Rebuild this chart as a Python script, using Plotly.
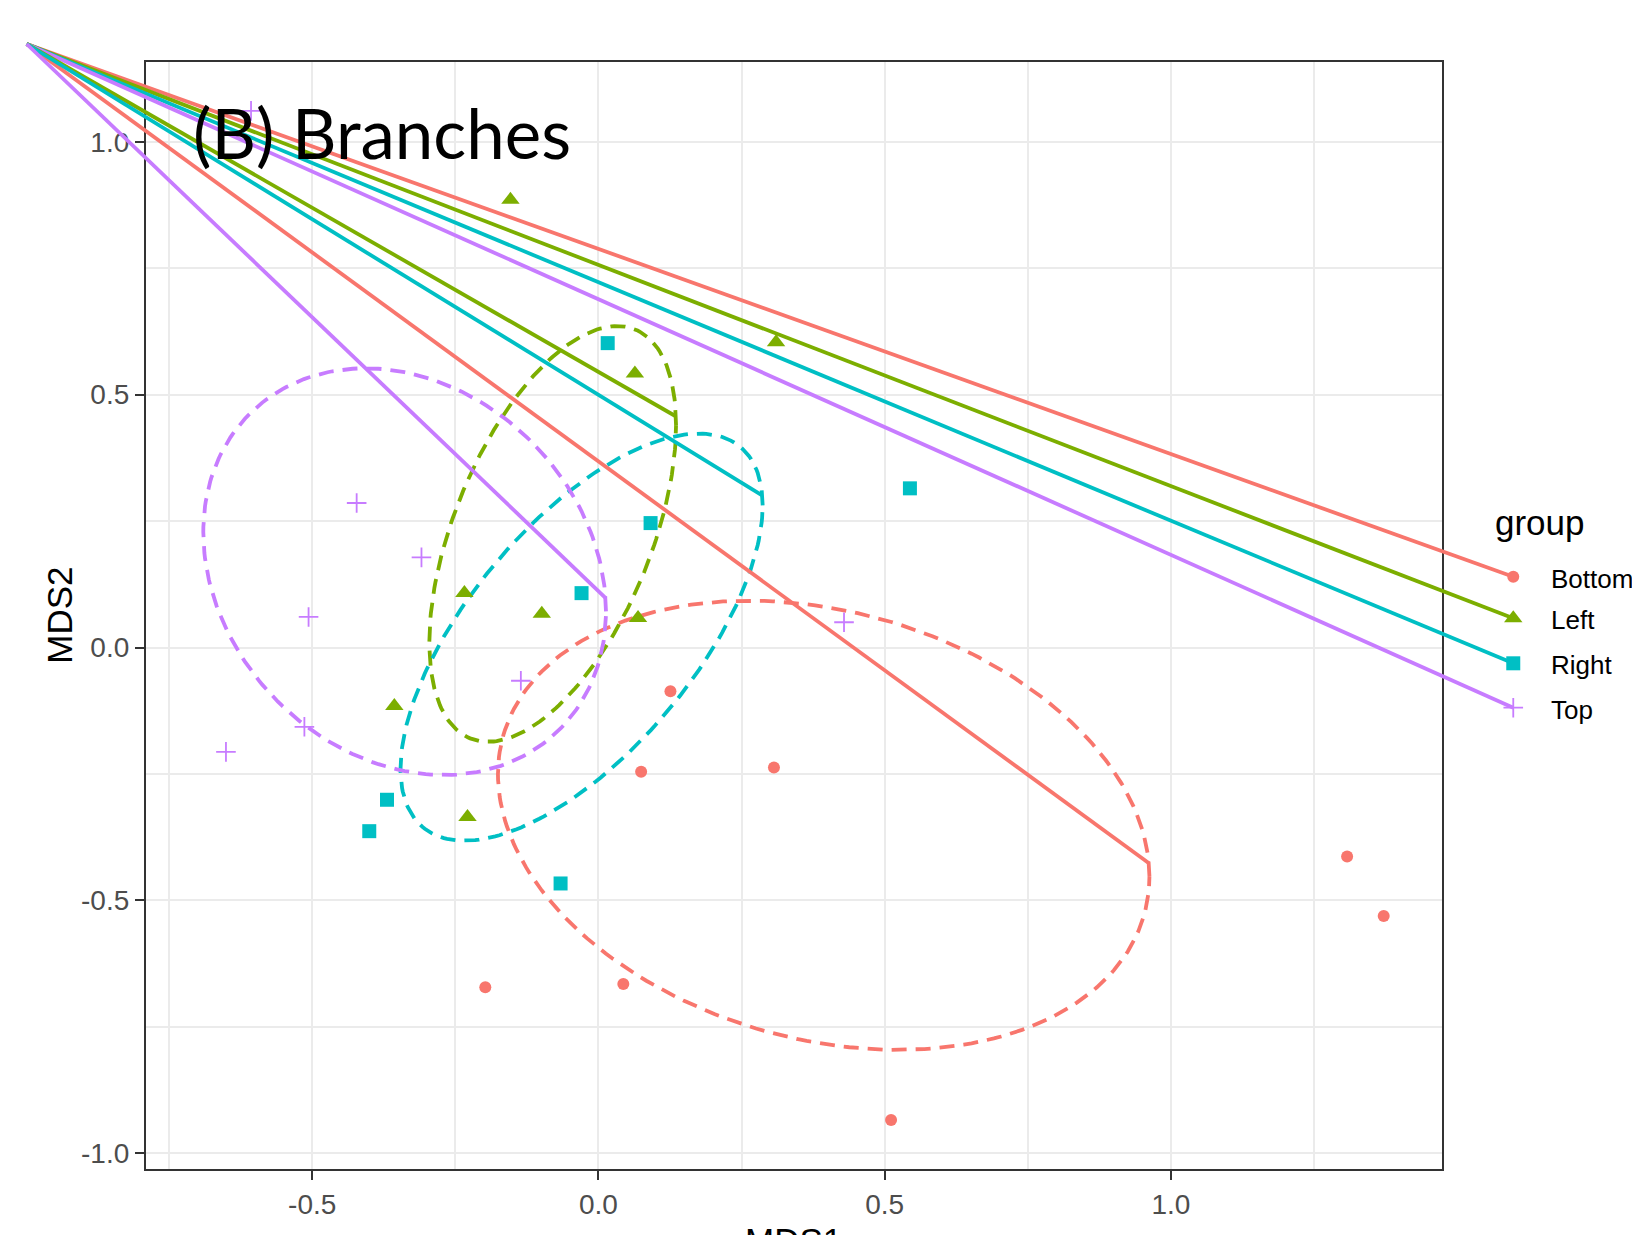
import numpy as np
import plotly.graph_objects as go

# ---------------- data ----------------
groups = ["Bottom", "Left", "Right", "Top"]
colors = ["#F8766D", "#7CAE00", "#00BFC4", "#C77CFF"]
symbols = ["circle", "triangle-up", "square", "cross-thin"]

bottom_x = [0.1257, 0.0745, 0.3065, 1.3077, 1.3716, -0.1977, 0.0434, 0.5111]
bottom_y = [-0.0864, -0.2456, -0.2373, -0.4131, -0.5310, -0.6715, -0.6653, -0.9340]
left_x = [-0.1538, 0.3102, 0.0636, -0.2342, -0.0990, 0.0691, -0.3566, -0.2288]
left_y = [0.8851, 0.6037, 0.5417, 0.1079, 0.0666, 0.0583, -0.1157, -0.3349]
right_x = [0.0161, 0.5440, 0.0910, -0.0296, -0.3694, -0.4004, -0.0662]
right_y = [0.6018, 0.3147, 0.2460, 0.1075, -0.3010, -0.3631, -0.4665]
top_x = [-0.6069, -0.4224, -0.3092, -0.5064, -0.1356, -0.5137, -0.6507, 0.4289]
top_y = [1.0609, 0.2857, 0.1782, 0.0604, -0.0657, -0.1567, -0.2063, 0.0500]
points_x = [bottom_x, left_x, right_x, top_x]
points_y = [bottom_y, left_y, right_y, top_y]

# ellipse parameters (centre, half extents, correlation)
ell_cx = [0.3934, -0.0800, -0.0295, -0.3386]
ell_cy = [-0.3514, 0.2246, 0.0206, 0.1500]
ell_sx = [0.569, 0.2155, 0.3163, 0.3517]
ell_sy = [0.444, 0.411, 0.4025, 0.402]
ell_rho = [-0.228, 0.523, 0.647, -0.195]

# annotation lines: common origin, one to each legend key and one inside the panel
origin_x = -0.9988
origin_y = 1.1932
key_x = [1.5979, 1.5979, 1.5979, 1.5979]
key_y = [0.140, 0.0577, -0.0312, -0.119]
inner_x = [0.9616, 0.1357, 0.2851, 0.0131]
inner_y = [-0.4265, 0.4567, 0.3015, 0.0973]

x_ticks = [-0.5, 0.0, 0.5, 1.0]
x_ticktext = ["-0.5", "0.0", "0.5", "1.0"]
y_ticks = [-1.0, -0.5, 0.0, 0.5, 1.0]
y_ticktext = ["-1.0", "-0.5", "0.0", "0.5", "1.0"]

title_text = "(B) Branches"

# ---------------- layout geometry ----------------
OFF = 8                      # page body margin of the html page
W, H = 1640 - OFF, 1235 - OFF


def px(sx):
    return (sx - OFF) / W


def py(sy):
    return 1 - (sy - OFF) / H


xr = [-0.7909, 1.4729]
yr = [-1.0316, 1.1582]
xd = [px(145.7), px(1441.7)]
yd = [py(1169.3), py(61.7)]


def full_range(r, d):
    span = (r[1] - r[0]) / (d[1] - d[0])
    lo = r[0] - d[0] * span
    return [lo, lo + span]


xr2 = full_range(xr, xd)
yr2 = full_range(yr, yd)

fig = go.Figure()

t = np.linspace(0, 2 * np.pi, 241)
for i, g in enumerate(groups):
    ex = ell_cx[i] + ell_sx[i] * np.cos(t)
    ey = ell_cy[i] + ell_sy[i] * (ell_rho[i] * np.cos(t) + np.sqrt(1 - ell_rho[i] ** 2) * np.sin(t))
    fig.add_trace(go.Scatter(x=ex, y=ey, mode="lines", showlegend=False, hoverinfo="skip",
                             line=dict(color=colors[i], width=3.8, dash="15px,9px")))

msize = [12, 16, 14, 14]
for i, g in enumerate(groups):
    fig.add_trace(go.Scatter(x=points_x[i], y=points_y[i], mode="markers", name=g, showlegend=False,
                             marker=dict(symbol=symbols[i], size=msize[i], color=colors[i],
                                         line=dict(color=colors[i], width=1.8 if symbols[i] == "cross-thin" else 0))))

# lines on full-figure axes
for i, g in enumerate(groups):
    fig.add_trace(go.Scatter(x=[origin_x, key_x[i]], y=[origin_y, key_y[i]], mode="lines",
                             xaxis="x2", yaxis="y2", showlegend=False, hoverinfo="skip",
                             line=dict(color=colors[i], width=3.8)))
for i, g in enumerate(groups):
    fig.add_trace(go.Scatter(x=[origin_x, inner_x[i]], y=[origin_y, inner_y[i]], mode="lines",
                             xaxis="x2", yaxis="y2", showlegend=False, hoverinfo="skip",
                             line=dict(color=colors[i], width=3.8)))
# legend keys
for i, g in enumerate(groups):
    fig.add_trace(go.Scatter(x=[key_x[i]], y=[key_y[i]], mode="markers", xaxis="x2", yaxis="y2",
                             showlegend=False, hoverinfo="skip",
                             marker=dict(symbol=symbols[i], size=msize[i], color=colors[i],
                                         line=dict(color=colors[i], width=1.8 if symbols[i] == "cross-thin" else 0))))

annotations = []
for i, g in enumerate(groups):
    annotations.append(dict(x=key_x[i], y=key_y[i], xref="x2", yref="y2", text=g, showarrow=False,
                            xanchor="left", yanchor="middle", xshift=36, yshift=-2,
                            font=dict(family="Liberation Sans, Arial", size=26, color="black")))
annotations.append(dict(x=px(1493.3), y=py(522.75), xref="paper", yref="paper", text="group",
                        showarrow=False, xanchor="left", yanchor="middle",
                        font=dict(family="Liberation Sans, Arial", size=35, color="black")))
annotations.append(dict(x=px(59.2), y=py(615.5), xref="paper", yref="paper", text="MDS2",
                        showarrow=False, textangle=-90, xanchor="center", yanchor="middle",
                        font=dict(family="Liberation Sans, Arial", size=35, color="black")))
annotations.append(dict(x=px(793.7), y=py(1240.2), xref="paper", yref="paper", text="MDS1",
                        showarrow=False, xanchor="center", yanchor="middle",
                        font=dict(family="Liberation Sans, Arial", size=35, color="black")))
annotations.append(dict(x=px(191), y=py(132), xref="paper", yref="paper", text=title_text,
                        showarrow=False, xanchor="left", yanchor="middle",
                        font=dict(family="Lato", size=69, color="black")))

axis_common = dict(showline=True, mirror=True, linecolor="#333333", linewidth=1.6,
                   ticks="outside", ticklen=9, tickwidth=1.6, tickcolor="#333333",
                   showgrid=True, gridcolor="#EBEBEB", gridwidth=1.6, zeroline=False,
                   tickfont=dict(family="Liberation Sans, Arial", size=28, color="#4D4D4D"))

fig.update_layout(
    width=W, height=H, margin=dict(l=0, r=0, t=0, b=0),
    paper_bgcolor="white", plot_bgcolor="rgba(0,0,0,0)",
    showlegend=False,
    xaxis=dict(domain=xd, range=xr, tickvals=x_ticks, ticktext=x_ticktext,
               minor=dict(tickvals=[-0.75, -0.25, 0.25, 0.75, 1.25], showgrid=True,
                          gridcolor="#EBEBEB", gridwidth=1.6),
               **axis_common),
    yaxis=dict(domain=yd, range=yr, tickvals=y_ticks, ticktext=y_ticktext,
               minor=dict(tickvals=[-0.75, -0.25, 0.25, 0.75], showgrid=True,
                          gridcolor="#EBEBEB", gridwidth=1.6),
               **axis_common),
    xaxis2=dict(domain=[0, 1], range=xr2, anchor="y2", visible=False, fixedrange=True),
    yaxis2=dict(domain=[0, 1], range=yr2, anchor="x2", visible=False, fixedrange=True),
    annotations=annotations,
)

fig.write_html("out.html")
